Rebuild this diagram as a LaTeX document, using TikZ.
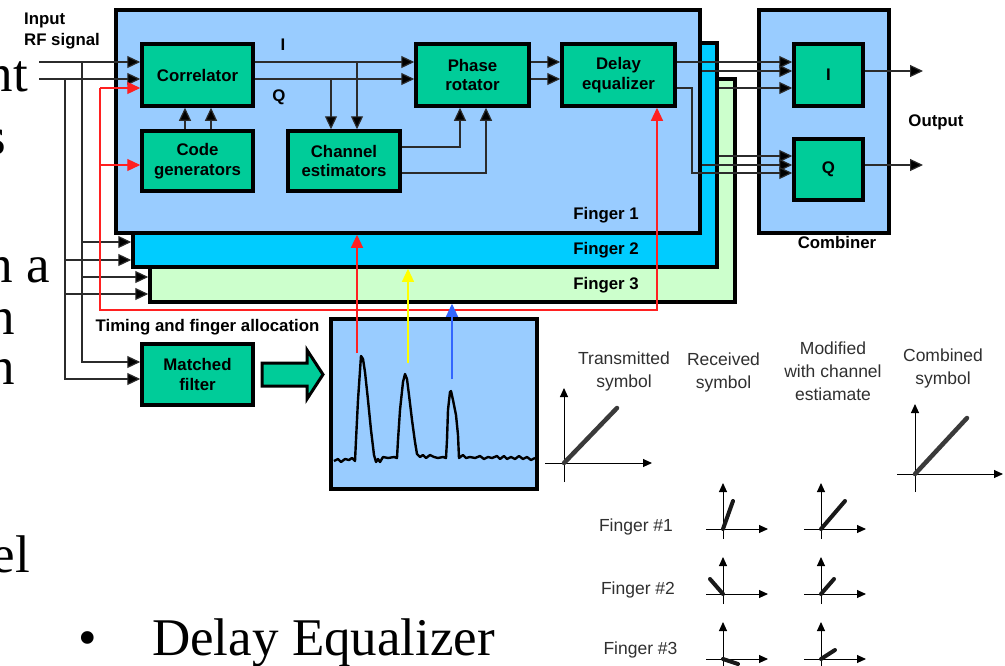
\documentclass[tikz,border=0pt]{standalone}
\usepackage{fontspec}
\setmainfont{Liberation Sans}
\newfontfamily\slideserif{Liberation Serif}
\usetikzlibrary{arrows.meta}

\definecolor{fingerA}{HTML}{99CCFF}
\definecolor{fingerB}{HTML}{00CCFF}
\definecolor{fingerC}{HTML}{CCFFCC}
\definecolor{blockgreen}{HTML}{00CC99}
\definecolor{wire}{HTML}{2B2B2B}
\definecolor{tred}{HTML}{FF2020}
\definecolor{tyellow}{HTML}{FFFF00}
\definecolor{tblue}{HTML}{3366FF}
\definecolor{symgray}{HTML}{3A3A3A}
\definecolor{captiongray}{HTML}{303030}

\begin{document}
\begin{tikzpicture}[x=1pt,y=-1pt,
  frame/.style={draw=black, line width=3.5pt, inner sep=0pt},
  block/.style={frame, fill=blockgreen, align=center,
    font=\bfseries\fontsize{16.8}{19.5}\selectfont},
  lbl/.style={font=\bfseries\fontsize{16.8}{19.5}\selectfont, inner sep=0pt},
  sig/.style={draw=wire, line width=1.2pt,
    -{Triangle[length=13pt,width=12pt,fill=black]}},
  redsig/.style={draw=tred, line width=1.2pt,
    -{Triangle[length=13pt,width=12pt,fill=tred]}},
  caption/.style={font=\fontsize{17.5}{23}\selectfont, text=captiongray,
    align=center, inner sep=0pt},
  axis/.style={draw=black, line width=1pt, -{Triangle[length=9pt,width=8pt]}},
  phasor/.style={draw=symgray, line width=4.5pt, line cap=round},
  fphasor/.style={draw=black!90, line width=4pt, line cap=round},
  slide/.style={font=\slideserif\fontsize{53}{62}\selectfont, inner sep=0pt}]

\useasboundingbox (0,0) rectangle (1005,665);
\clip (0,0) rectangle (1005,665);
\fill[white] (0,0) rectangle (1005,665);

% ---- slide text behind the figure
\node[slide, anchor=base east] (s1) at (28,91) {nt};
\node[slide, anchor=base east] (s2) at (6,154) {s};
\node[slide, anchor=base east] (s3) at (50,282) {h a};
\node[slide, anchor=base east] (s4) at (15,334) {n};
\node[slide, anchor=base east] (s5) at (15,384) {n};
\node[slide, anchor=base east] (s6) at (30,572) {el};
\node[slide, anchor=base] (bul) at (88,655) {•};
\node[slide, anchor=base west] (s7) at (152,655) {Delay Equalizer};

% ---- combiner
\node[frame, fill=fingerA, minimum width=130, minimum height=223] (comb) at (824,121.5) {};
\node[lbl] (combl) at (837,242) {Combiner};
\node[block, minimum width=69, minimum height=62] (CI) at (828.5,75) {I};
\node[block, minimum width=69, minimum height=61] (CQ) at (828.5,169.5) {Q};
\node[lbl] (outl) at (936,122) {Output};
\coordinate (oI) at (923,71);
\coordinate (oQ) at (923,165);
\draw[sig] (CI.east |- oI) -- (oI);
\draw[sig] (CQ.east |- oQ) -- (oQ);

% ---- finger 3
\node[frame, fill=fingerC, minimum width=585, minimum height=223] (F3) at (442.5,190.5) {};
\node[lbl] (F3l) at (606,285) {Finger 3};
\coordinate (f3a) at (712,88);
\coordinate (f3b) at (712,156);
\draw[sig] (f3a) -- (CI.west |- f3a);
\draw[sig] (f3b) -- (CQ.west |- f3b);

% ---- finger 2
\node[frame, fill=fingerB, minimum width=584, minimum height=224] (F2) at (425,155) {};
\node[lbl] (F2l) at (606,250) {Finger 2};
\coordinate (f2a) at (690,71);
\coordinate (f2b) at (690,165);
\draw[sig] (f2a) -- (CI.west |- f2a);
\draw[sig] (f2b) -- (CQ.west |- f2b);

% ---- finger 1
\node[frame, fill=fingerA, minimum width=584, minimum height=223] (F1) at (408,121.5) {};
\node[lbl] (F1l) at (606,215) {Finger 1};

\node[block, minimum width=111, minimum height=62] (corr) at (197.5,75) {Correlator};
\node[block, minimum width=111, minimum height=60] (code) at (197.5,161) {Code\\generators};
\node[block, minimum width=112, minimum height=60] (chan) at (344,161) {Channel\\estimators};
\node[block, minimum width=113, minimum height=62] (phase) at (472.5,75) {Phase\\rotator};
\node[block, minimum width=113, minimum height=62] (delay) at (618.5,75) {Delay\\equalizer};
\node[lbl] (lI) at (283,45) {I};
\node[lbl] (lQ) at (279,97) {Q};

\coordinate (rowI) at (0,62);
\coordinate (rowQ) at (0,79);
\draw[sig] (corr.east |- rowI) -- (phase.west |- rowI);
\draw[sig] (corr.east |- rowQ) -- (phase.west |- rowQ);
\coordinate (tapQ) at (331,79);
\coordinate (tapI) at (357,62);
\draw[sig] (tapQ) -- (chan.north -| tapQ);
\draw[sig] (tapI) -- (chan.north -| tapI);
\draw[sig] (chan.east |- 0,147) -| (phase.south -| 460,0);
\draw[sig] (chan.east |- 0,173) -| (phase.south -| 486,0);
\draw[sig] (phase.east |- rowI) -- (delay.west |- rowI);
\draw[sig] (phase.east |- rowQ) -- (delay.west |- rowQ);
\draw[sig] (delay.east |- rowI) -- (CI.west |- rowI);
\draw[sig] (delay.east |- 0,88) -- (692,88) |- (CQ.west |- 0,173);
\draw[sig] (code.north -| 185,0) -- (corr.south -| 185,0);
\draw[sig] (code.north -| 211,0) -- (corr.south -| 211,0);

% ---- inputs
\node[lbl, anchor=base west] (in1l) at (24,24) {Input};
\node[lbl, anchor=base west] (in2l) at (24,45) {RF signal};
\coordinate (inI) at (39,62);
\coordinate (inQ) at (39,79);
\coordinate (tI) at (82,62);
\coordinate (tQ) at (65,79);
\draw[sig] (inI) -- (corr.west |- inI);
\draw[sig] (inQ) -- (corr.west |- inQ);

\node[lbl] (timing) at (207.5,327) {Timing and finger allocation};
\node[block, minimum width=111, minimum height=61] (mf) at (197.5,374.5) {Matched\\filter};

\draw[sig] (tI) |- (mf.west |- 0,362);
\draw[sig] (tQ) |- (mf.west |- 0,379);
\draw[sig] (tI |- 0,242) -- (F2.west |- 0,242);
\draw[sig] (tQ |- 0,260) -- (F2.west |- 0,260);
\draw[sig] (tI |- 0,277) -- (F3.west |- 0,277);
\draw[sig] (tQ |- 0,294) -- (F3.west |- 0,294);

% ---- timing line
\coordinate (rtop) at (100,88);
\draw[redsig] (rtop) -- (corr.west |- rtop);
\draw[redsig] (rtop |- 0,165) -- (code.west |- 0,165);
\draw[redsig] (rtop) |- (657,310) -- (delay.south -| 657,0);

% ---- matched filter output
\draw[line width=3pt, fill=blockgreen, line join=miter]
  (262,363) -- (307,363) -- (307,350) -- (323,374.5) -- (307,399) -- (307,386) -- (262,386) -- cycle;

\node[frame, fill=fingerA, minimum width=206, minimum height=170] (scope) at (434,404) {};
\draw[line width=2.4pt, line join=round]
  (334,461) -- (338,459) -- (341,462) -- (345,459) -- (349,460) -- (352,458) -- (355,461)
  -- (356,440) -- (358,400) -- (361,356) -- (363,359) -- (365,372) -- (368,400) -- (371,430) -- (374,455) -- (376,462)
  -- (378,459) -- (380,462) -- (383,457) -- (388,458) -- (394,457) -- (397,458)
  -- (398,440) -- (400,410) -- (403,382) -- (405,374) -- (407,379) -- (409,395) -- (412,420) -- (415,442) -- (417,454)
  -- (420,457) -- (423,455) -- (426,458) -- (430,455) -- (434,457) -- (438,458) -- (443,457) -- (446,458)
  -- (447,440) -- (448,410) -- (450,392) -- (451,391) -- (453,400) -- (456,415) -- (458,435) -- (459,458)
  -- (463,455) -- (466,458) -- (470,457) -- (475,458) -- (480,456) -- (484,459) -- (488,457) -- (492,458)
  -- (497,456) -- (500,459) -- (504,456) -- (507,459) -- (511,457) -- (515,459) -- (519,456) -- (523,459)
  -- (527,457) -- (531,460) -- (535,458);

\coordinate (pk1) at (357,353);
\coordinate (pk2) at (408,363);
\coordinate (pk3) at (452,379);
\draw[redsig] (pk1) -- (F1.south -| pk1);
\draw[draw=tyellow, line width=1.2pt, -{Triangle[length=13pt,width=12pt,fill=tyellow]}] (pk2) -- (F2.south -| pk2);
\draw[draw=tblue, line width=1.2pt, -{Triangle[length=13pt,width=12pt,fill=tblue]}] (pk3) -- (F3.south -| pk3);

% ---- symbol constellations
\node[caption] (capT) at (624,371.5) {Transmitted\\symbol};
\node[caption] (capR) at (723.5,372.5) {Received\\symbol};
\node[caption] (capM) at (833,371.5) {Modified\\with channel\\estiamate};
\node[caption] (capC) at (943,368.5) {Combined\\symbol};

\draw[axis] (564,482) -- (564,388);
\draw[axis] (545,463) -- (652,463);
\draw[phasor] (564,463) -- (617,408);

\draw[axis] (915,492) -- (915,404);
\draw[axis] (897,474) -- (1003,474);
\draw[phasor] (915,474) -- (967,418);

\node[caption] (fn1) at (636,527) {Finger \#1};
\node[caption] (fn2) at (638,590) {Finger \#2};
\node[caption] (fn3) at (640.5,650) {Finger \#3};

\foreach \cx in {723,821} {
  \draw[axis] (\cx,539) -- (\cx,483);
  \draw[axis] (\cx-17,529) -- (\cx+45,529);
  \draw[axis] (\cx,604) -- (\cx,557);
  \draw[axis] (\cx-17,594) -- (\cx+45,594);
  \draw[axis] (\cx,672) -- (\cx,622);
  \draw[axis] (\cx-17,659) -- (\cx+45,659);
}
\draw[fphasor] (723,529) -- (733,501);
\draw[fphasor] (821,529) -- (845,501);
\draw[fphasor] (723,594) -- (710,579);
\draw[fphasor] (821,594) -- (834,579);
\draw[fphasor] (723,659) -- (738,664);
\draw[fphasor] (821,659) -- (835,650);

\end{tikzpicture}
\end{document}
